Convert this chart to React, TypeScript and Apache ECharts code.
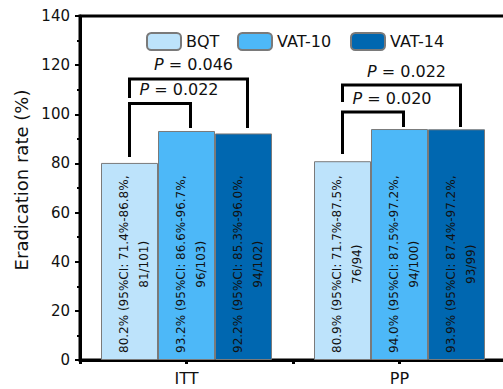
import React, { useEffect, useRef } from 'react';
import * as echarts from 'echarts';

const categories = ['', 'ITT', ' ', 'PP', '  '];
const seriesNames = ['BQT', 'VAT-10', 'VAT-14'];

const bqtRates = [null, 80.2, null, 80.9, null];
const vat10Rates = [null, 93.2, null, 94.0, null];
const vat14Rates = [null, 92.2, null, 93.9, null];

const bqtCI = ['', '71.4%-86.8%', '', '71.7%-87.5%', ''];
const vat10CI = ['', '86.6%-96.7%', '', '87.5%-97.2%', ''];
const vat14CI = ['', '85.3%-96.0%', '', '87.4%-97.2%', ''];

const bqtN = ['', '81/101', '', '76/94', ''];
const vat10N = ['', '96/103', '', '94/100', ''];
const vat14N = ['', '94/102', '', '93/99', ''];

const yMin = 0;
const yMax = 140;
const yInterval = 20;

// [categoryIndex, leftBar, rightBar, bracketTop, leftFoot, rightFoot]
const brackets = [
  [1, 0, 2, 114.4, 106.6, 94.4],
  [1, 0, 1, 104.4, 82.6, 94.4],
  [3, 0, 2, 111.9, 105.0, 94.8],
  [3, 0, 1, 100.9, 83.8, 94.8],
];
const bracketP = ['0.046', '0.022', '0.022', '0.020'];

const FONT = 'DejaVu Sans';
const BAR_W = 57;
const colors = ['#bde3fb', '#4db8f8', '#0067b0'];

function makeLabel(ci: string[], n: string[]) {
  return {
    show: true,
    position: 'insideBottom',
    distance: 7,
    rotate: 90,
    align: 'left',
    verticalAlign: 'middle',
    color: '#111',
    fontFamily: FONT,
    fontSize: 12,
    lineHeight: 20,
    padding: [9, 0, 0, 0],
    formatter: (p: any) =>
      `{t|${Number(p.value).toFixed(1)}% (95%CI: ${ci[p.dataIndex]},}\n{t|${n[p.dataIndex]})}`,
    rich: {
      t: { align: 'center', fontFamily: FONT, fontSize: 12, lineHeight: 20, color: '#111' },
    },
  };
}

export default function App() {
  const ref = useRef<HTMLDivElement>(null);
  useEffect(() => {
    document.body.style.margin = '0';
    if (!ref.current) return;
    const chart = echarts.init(ref.current, undefined, { renderer: 'svg' });
    const barBase = {
      type: 'bar',
      barWidth: BAR_W,
      barGap: '0%',
      itemStyle: { borderColor: '#7a7a7a', borderWidth: 1 },
    };
    const legendBase = {
      top: 32,
      padding: 0,
      itemWidth: 34,
      itemHeight: 17,
      textStyle: { fontFamily: FONT, fontSize: 16, color: '#111' },
    };
    chart.setOption({
      animation: false,
      textStyle: { fontFamily: FONT },
      grid: {
        left: 80,
        top: 16,
        bottom: 29,
        right: -3,
        outerBoundsMode: 'none',
        containLabel: false,
        show: true,
        borderColor: '#000',
        borderWidth: 3,
        backgroundColor: 'transparent',
      },
      legend: [
        { ...legendBase, left: 146, data: [seriesNames[0]] },
        { ...legendBase, left: 237, data: [seriesNames[1]] },
        { ...legendBase, left: 350, data: [seriesNames[2]] },
      ],
      xAxis: {
        type: 'category',
        data: categories,
        boundaryGap: false,
        axisLine: { lineStyle: { color: '#000', width: 3 } },
        axisTick: { show: true, length: 4, lineStyle: { color: '#000', width: 3 } },
        axisLabel: { color: '#111', fontSize: 16, fontFamily: FONT, margin: 10, interval: 0 },
        splitLine: { show: false },
      },
      yAxis: {
        type: 'value',
        min: yMin,
        max: yMax,
        interval: yInterval,
        name: 'Eradication rate (%)',
        nameLocation: 'middle',
        nameGap: 50,
        nameTextStyle: { fontSize: 18, fontFamily: FONT, color: '#111', padding: [0, 0, 0, 16] },
        axisLine: { show: true, lineStyle: { color: '#000', width: 3 } },
        axisTick: { show: true, length: 5, lineStyle: { color: '#000', width: 2 } },
        minorTick: { show: true, splitNumber: 2, length: 3, lineStyle: { color: '#000', width: 2 } },
        axisLabel: { color: '#111', fontSize: 15, fontFamily: FONT, margin: 10 },
        splitLine: { show: false },
      },
      series: [
        { ...barBase, name: seriesNames[0], data: bqtRates, itemStyle: { ...barBase.itemStyle, color: colors[0] }, label: makeLabel(bqtCI, bqtN) },
        { ...barBase, name: seriesNames[1], data: vat10Rates, itemStyle: { ...barBase.itemStyle, color: colors[1] }, label: makeLabel(vat10CI, vat10N) },
        { ...barBase, name: seriesNames[2], data: vat14Rates, itemStyle: { ...barBase.itemStyle, color: colors[2] }, label: makeLabel(vat14CI, vat14N) },
        {
          type: 'custom',
          name: 'brackets',
          coordinateSystem: 'cartesian2d',
          data: brackets,
          encode: { x: 0, y: [3, 4, 5] },
          z: 10,
          renderItem: (params: any, api: any) => {
            const cat = api.value(0);
            const lBar = api.value(1);
            const rBar = api.value(2);
            const top = api.coord([cat, api.value(3)]);
            const lf = api.coord([cat, api.value(4)]);
            const rf = api.coord([cat, api.value(5)]);
            const xl = top[0] + (lBar - 1) * BAR_W;
            const xr = top[0] + (rBar - 1) * BAR_W + 4;
            const inner = rBar - lBar === 1;
            const tx = (xl + xr) / 2 + (inner ? 19 : 5);
            return {
              type: 'group',
              children: [
                {
                  type: 'polyline',
                  shape: { points: [[xl, lf[1]], [xl, top[1]], [xr, top[1]], [xr, rf[1]]] },
                  style: { stroke: '#000', lineWidth: 3, fill: null, lineJoin: 'miter' },
                },
                {
                  type: 'text',
                  x: tx,
                  y: top[1] - 14,
                  style: {
                    text: `{i|P} = ${bracketP[params.dataIndex]}`,
                    fontFamily: FONT,
                    fontSize: 16,
                    fill: '#111',
                    align: 'center',
                    verticalAlign: 'middle',
                    rich: { i: { fontStyle: 'italic', fontFamily: FONT, fontSize: 16, fill: '#111' } },
                  },
                },
              ],
            };
          },
        },
      ],
    });
    return () => chart.dispose();
  }, []);
  return <div ref={ref} style={{ width: 503, height: 389 }} />;
}
